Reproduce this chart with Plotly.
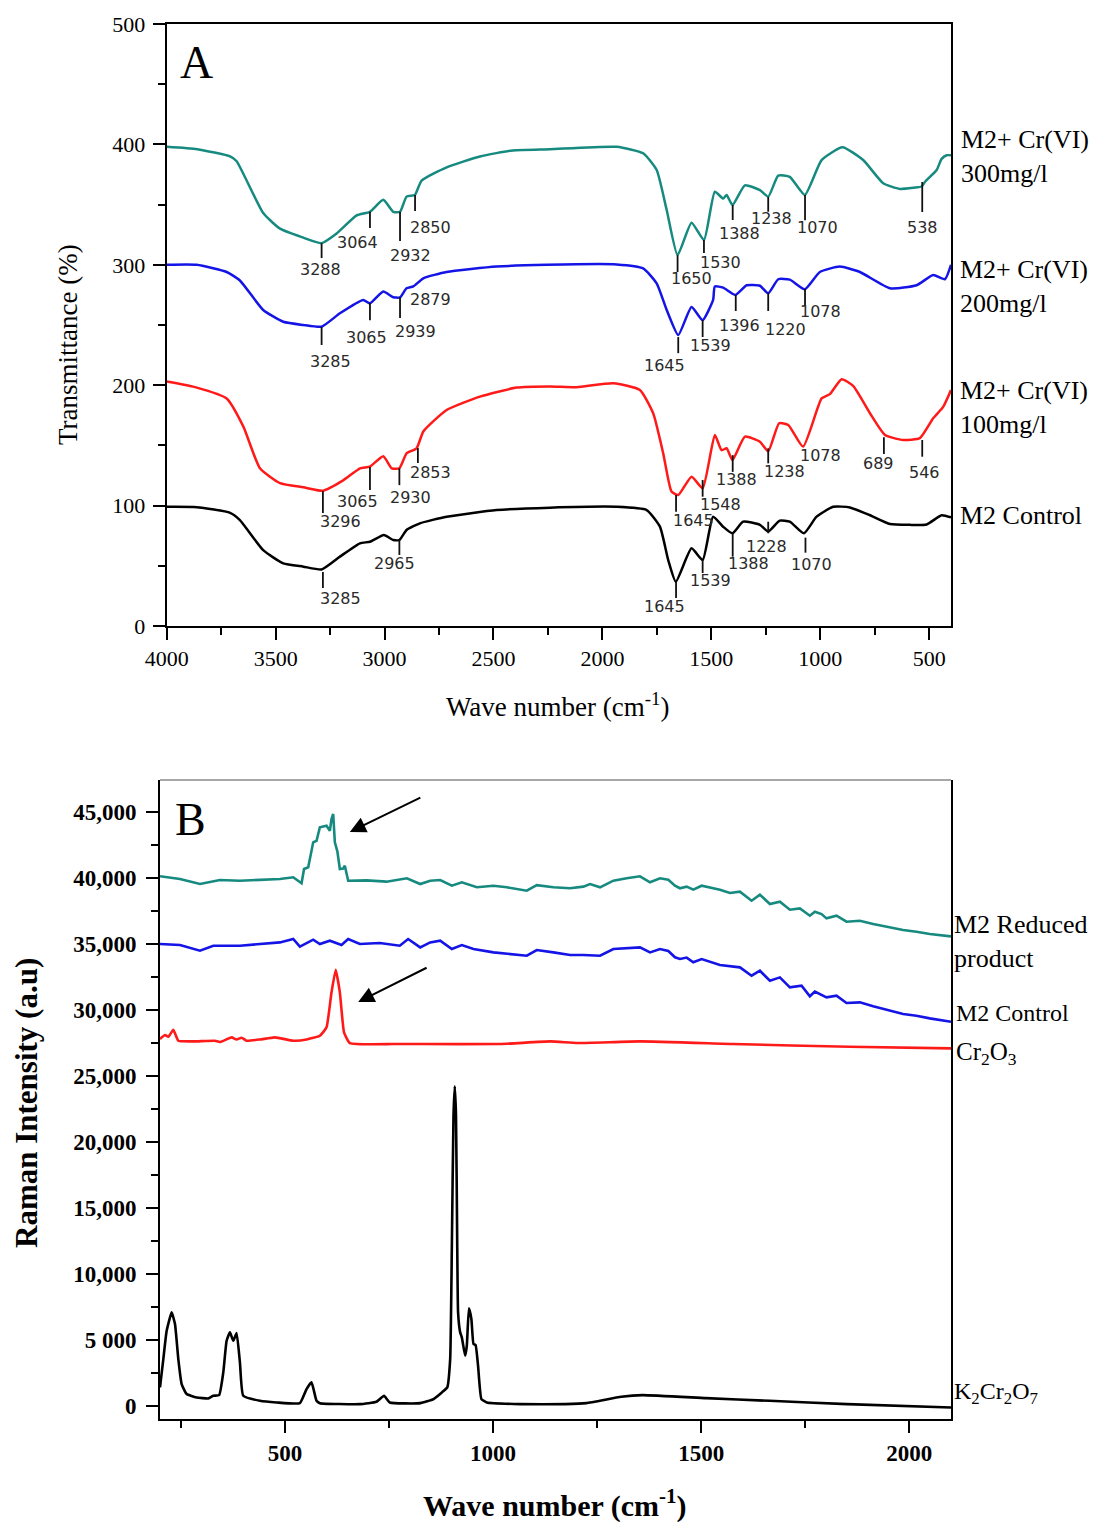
import plotly.graph_objects as go

# ---------------- Panel A : FTIR ----------------
FTIR_300_WN = [4000, 3860, 3709, 3679, 3557, 3480, 3380, 3289, 3220, 3128, 3067, 3006, 2960, 2929, 2899,
               2861, 2830, 2715, 2562, 2411, 2241, 1935, 1813, 1751, 1705, 1655, 1591, 1534, 1484, 1446,
               1430, 1403, 1346, 1277, 1239, 1193, 1140, 1071, 994, 898, 803, 711, 635, 570, 535, 519,
               466, 443, 420, 400]
FTIR_300_T = [398, 396, 390, 386, 343, 330, 323, 318, 326, 341, 344, 354, 344, 344, 356.6,
              358, 370, 381, 390, 395, 396, 398, 392.6, 378.7, 345.5, 308, 335, 320.6, 360.7, 355,
              358, 349.7, 366, 362, 356.6, 374, 373, 358, 387, 397.6, 387, 367.7, 363, 364, 365, 369,
              378.7, 388, 391, 391]

FTIR_200_WN = [4000, 3862, 3725, 3664, 3557, 3465, 3373, 3289, 3205, 3098, 3067, 3006, 2960, 2929, 2899,
               2868, 2822, 2715, 2486, 2256, 1935, 1813, 1751, 1705, 1652, 1591, 1540, 1492, 1484, 1446,
               1390, 1338, 1277, 1239, 1193, 1140, 1071, 1002, 910, 818, 680, 558, 482, 428, 400]
FTIR_200_T = [300, 300, 294, 287, 262.5, 252.7, 250, 248.6, 259.7, 270.8, 268, 277.8, 273, 273, 280.5,
              282, 288.8, 294, 298.5, 300, 300.3, 297, 284.6, 262.5, 241.7, 265, 254, 270.8, 282, 281,
              275, 283, 282.6, 276.4, 288, 287.7, 279.7, 294, 298.5, 294, 280.5, 283, 291.5, 288, 300]

FTIR_100_WN = [4000, 3862, 3725, 3648, 3572, 3480, 3373, 3284, 3190, 3113, 3067, 3006, 2967, 2932, 2899,
               2853, 2822, 2715, 2562, 2394, 2241, 2119, 1950, 1828, 1767, 1721, 1683, 1652, 1591, 1540,
               1484, 1453, 1430, 1403, 1346, 1277, 1239, 1189, 1147, 1079, 994, 956, 902, 849, 772, 703,
               620, 543, 482, 436, 400]
FTIR_100_T = [203, 198, 189, 165.6, 131, 118.7, 115.2, 112.4, 121, 131, 132.4, 141, 131, 131, 143.4,
              147.6, 161.6, 179.4, 190.5, 198, 199, 198.4, 201.6, 196, 176.7, 143.4, 111.7, 108.8, 124, 114.4,
              158.6, 146, 147.6, 137.9, 157.3, 153, 145, 168.4, 167, 149, 189, 192.6, 205, 199.4, 176.7, 158.6,
              154.5, 156, 172.5, 182, 196]

FTIR_CTRL_WN = [4000, 3862, 3709, 3664, 3557, 3465, 3373, 3289, 3205, 3113, 3067, 3003, 2960, 2932, 2899,
                2838, 2715, 2486, 2241, 1935, 1797, 1736, 1698, 1663, 1591, 1540, 1492, 1446, 1403, 1354,
                1277, 1239, 1186, 1140, 1075, 1017, 941, 864, 772, 680, 589, 512, 443, 400]
FTIR_CTRL_T = [99, 98.7, 94, 88, 63, 52, 49.3, 47, 57.6, 68.7, 70, 75.6, 71.4, 71.4, 79.7,
               85.3, 90.8, 96.3, 98.3, 99, 96.3, 82.5, 54.8, 36.8, 64.5, 54.8, 90.8, 82.5, 77, 86.7,
               84, 78.4, 87.5, 86.7, 77, 90.8, 99, 98.5, 92, 84.7, 84, 84.3, 92, 90.2]

FTIR_X_TICKS = [4000, 3500, 3000, 2500, 2000, 1500, 1000, 500]
FTIR_Y_TICKS = [0, 100, 200, 300, 400, 500]

# peak labels: (text, tick wavenumber or None, tick top, tick bottom, label wavenumber, label level)
FTIR_PEAKS = [
    ("3288", 3289, 318, 305.6, 3296, 295.7), ("3064", 3067, 344, 330.6, 3122, 318.9),
    ("2932", 2929, 344, 319.8, 2883, 308), ("2850", 2860, 358, 344.7, 2791, 330.6),
    ("1650", 1655, 308, 294, 1590, 289), ("1530", 1534, 320.6, 309.8, 1457, 302.3),
    ("1388", 1402, 349.7, 337.2, 1373, 325.6), ("1238", 1239, 356.3, 344, 1223, 338.4),
    ("1070", 1070, 358, 337, 1011, 330.6), ("538", 532, 368.8, 343.9, 533, 330.6),
    ("3285", 3289, 248.3, 233.4, 3246, 219.3), ("3065", 3067, 268.3, 254, 3081, 240),
    ("2939", 2929, 273, 255.8, 2856, 244.4), ("2879", None, 0, 0, 2791, 270.8),
    ("1645", 1652, 240, 226.6, 1716, 216.4), ("1539", 1540, 254, 240, 1506, 232.8),
    ("1396", 1388, 275, 261.6, 1369, 249.6), ("1220", 1239, 276.6, 261.6, 1161, 246.1),
    ("1078", 1070, 280, 266.6, 997, 261),
    ("3296", 3283, 112, 93.9, 3204, 86.6), ("3065", 3067, 132, 113, 3123, 103.8),
    ("2930", 2932, 131, 117, 2880, 106.9), ("2853", 2847, 147.8, 135.4, 2791, 127.3),
    ("1645", 1662, 108.8, 94.9, 1583, 87.5), ("1548", 1540, 121.3, 107.4, 1457, 101.3),
    ("1388", 1402, 141.9, 128, 1384, 121.3), ("1238", 1239, 147.6, 135.1, 1165, 128.2),
    ("1078", None, 0, 0, 998, 142), ("689", 708, 156.7, 142.9, 734, 135.1),
    ("546", 532, 154.5, 140.6, 520, 127.9),
    ("3285", 3283, 44.85, 31.6, 3204, 23), ("2965", 2932, 71.4, 59, 2955, 52),
    ("1645", 1662, 36.8, 23.3, 1714, 16.6), ("1539", 1540, 54.8, 44, 1506, 38),
    ("1388", 1402, 77.2, 57.6, 1331, 51.7), ("1228", 1239, 86.6, 77, 1246, 65.9),
    ("1070", 1068, 73.4, 60.9, 1040, 50.7),
]

# ---------------- Panel B : Raman ----------------
RAMAN_RED_WN = [200, 248, 296, 344, 392, 440, 488, 520, 540, 546,
                556, 568, 576, 584, 600, 608, 612, 616, 620, 626,
                632, 640, 644, 652, 696, 744, 793, 825, 849, 873,
                901, 925, 961, 1001, 1033, 1081, 1105, 1145, 1185, 1217,
                1233, 1257, 1289, 1321, 1353, 1377, 1401, 1421, 1437, 1449,
                1465, 1481, 1501, 1545, 1569, 1593, 1621, 1641, 1665, 1689,
                1713, 1737, 1761, 1773, 1789, 1801, 1825, 1849, 1881, 1913,
                1953, 1985, 2017, 2049, 2100]
RAMAN_RED_I = [40106, 39902, 39523, 39826, 39773, 39826, 39902, 40030, 39576, 40659,
               40788, 42682, 42800, 43818, 43939, 43560, 44445, 44826, 42682, 42000,
               40659, 40700, 40909, 39773, 39800, 39700, 39955, 39523, 39773, 39823,
               39394, 39650, 39273, 39394, 39273, 39017, 39440, 39273, 39200, 39323,
               39520, 39273, 39773, 39955, 40106, 39650, 39955, 39850, 39394, 39200,
               39323, 39100, 39394, 39091, 38838, 38940, 38258, 38713, 38008, 38185,
               37576, 37677, 37121, 37424, 37247, 36919, 37121, 36667, 36742, 36490,
               36240, 36037, 35911, 35735, 35558]

RAMAN_CTRL_WN = [200, 248, 296, 328, 392, 440, 488, 520, 536, 568,
                 584, 608, 636, 652, 680, 728, 776, 796, 825, 849,
                 873, 901, 925, 953, 1001, 1081, 1105, 1145, 1185, 1217,
                 1257, 1289, 1321, 1353, 1377, 1401, 1421, 1437, 1449, 1465,
                 1481, 1501, 1545, 1593, 1621, 1641, 1665, 1689, 1713, 1741,
                 1761, 1773, 1801, 1825, 1849, 1881, 1913, 1953, 1985, 2017,
                 2049, 2100]
RAMAN_CTRL_I = [34977, 34900, 34470, 34848, 34848, 34977, 35100, 35356, 34773, 35303,
                34977, 35227, 34900, 35356, 34977, 35050, 34848, 35356, 34723, 35100,
                35227, 34596, 34900, 34596, 34344, 34091, 34520, 34344, 34140, 34140,
                34091, 34596, 34646, 34723, 34344, 34596, 34450, 33970, 33843, 33950,
                33591, 33841, 33386, 33210, 32576, 32955, 32197, 32450, 31697, 31823,
                31015, 31369, 30939, 31065, 30508, 30558, 30255, 29925, 29674, 29548,
                29346, 29093]

RAMAN_CR2O3_WN = [200, 212, 220, 232, 244, 280, 332, 344, 372, 384,
                  396, 408, 440, 476, 520, 552, 584, 600, 612, 622,
                  632, 642, 656, 760, 825, 1017, 1138, 1203, 1353, 1577,
                  1856, 2100]
RAMAN_CR2O3_I = [27780, 28083, 27950, 28485, 27652, 27600, 27652, 27550, 27909, 27740,
                 27880, 27652, 27740, 27909, 27652, 27740, 28030, 28667, 31318, 33030,
                 31318, 28288, 27477, 27400, 27400, 27400, 27600, 27477, 27600, 27400,
                 27197, 27075]

RAMAN_K2_WN = [200, 208, 216, 228, 236, 244, 252, 264, 288, 316,
               328, 342, 352, 360, 368, 376, 384, 392, 400, 440,
               480, 536, 552, 564, 576, 584, 680, 720, 738, 752,
               825, 857, 877, 890, 897, 901, 905, 908, 911, 914,
               916, 921, 925, 933, 937, 942, 948, 953, 958, 964,
               972, 985, 1065, 1173, 1224, 1308, 1359, 1511, 1664, 1850,
               2100]
RAMAN_K2_I = [1394, 3538, 5682, 7076, 6189, 3538, 1644, 886, 636, 560,
              758, 808, 2530, 4924, 5560, 4924, 5510, 3288, 758, 379,
              253, 200, 1265, 1773, 379, 200, 126, 303, 758, 253,
              200, 508, 1015, 1394, 3538, 12000, 22000, 24200, 22000, 12000,
              7076, 5560, 5180, 3788, 4548, 7379, 6568, 4674, 4600, 3030,
              508, 253, 126, 126, 200, 680, 806, 580, 378, 126,
              -126]

RAMAN_X_TICKS = [500, 1000, 1500, 2000]
RAMAN_Y_TICKS = [0, 5000, 10000, 15000, 20000, 25000, 30000, 35000, 40000, 45000]
RAMAN_Y_LABELS = ["0", "5 000", "10,000", "15,000", "20,000", "25,000", "30,000", "35,000", "40,000", "45,000"]

# arrows: (head wn, head I, tail wn, tail I)
RAMAN_ARROWS = [(656, 43462, 829, 46114), (676, 30583, 844, 33235)]

TEAL = "#178a80"
BLUE = "#1414e6"
RED = "#ff1a1a"
BLACK = "#000000"

# page has an 8 px body margin; figure is sized to fit inside the 1106x1530 window
OFF = 8
W, H = 1090, 1514


def PX(px):
    return (px - OFF) / W


def PY(py):
    return 1 - (py - OFF) / H


fig = go.Figure()

for wn, t, c in [(FTIR_300_WN, FTIR_300_T, TEAL), (FTIR_200_WN, FTIR_200_T, BLUE),
                 (FTIR_100_WN, FTIR_100_T, RED), (FTIR_CTRL_WN, FTIR_CTRL_T, BLACK)]:
    fig.add_trace(go.Scatter(x=wn, y=t, mode="lines", xaxis="x", yaxis="y",
                             line=dict(color=c, width=2.5, shape="spline", smoothing=0.5),
                             showlegend=False, hoverinfo="skip"))

# peak tick marks
px, py = [], []
for lab, lx, y0, y1, tx, ty in FTIR_PEAKS:
    if lx is not None:
        px += [lx, lx, None]
        py += [y0, y1, None]
fig.add_trace(go.Scatter(x=px, y=py, mode="lines", xaxis="x", yaxis="y",
                         line=dict(color="#111", width=1.8), showlegend=False, hoverinfo="skip"))

for wn, inten, c, shp in [(RAMAN_RED_WN, RAMAN_RED_I, TEAL, "linear"),
                          (RAMAN_CTRL_WN, RAMAN_CTRL_I, BLUE, "linear"),
                          (RAMAN_CR2O3_WN, RAMAN_CR2O3_I, RED, "spline"),
                          (RAMAN_K2_WN, RAMAN_K2_I, BLACK, "spline")]:
    line = dict(color=c, width=2.6, shape=shp)
    if shp == "spline":
        line["smoothing"] = 0.4
    fig.add_trace(go.Scatter(x=wn, y=inten, mode="lines", xaxis="x2", yaxis="y2",
                             line=line, showlegend=False, hoverinfo="skip"))

annotations = []
for lab, lx, y0, y1, tx, ty in FTIR_PEAKS:
    annotations.append(dict(x=tx, y=ty, xref="x", yref="y", text=lab, showarrow=False,
                            xanchor="center", yanchor="middle",
                            font=dict(family="DejaVu Sans", size=16, color="#2a2a2a")))

for hx, hy, tx, ty in RAMAN_ARROWS:
    annotations.append(dict(x=hx, y=hy, ax=tx, ay=ty, xref="x2", yref="y2", axref="x2", ayref="y2",
                            text="", showarrow=True, arrowhead=2, arrowsize=1.6, arrowwidth=2,
                            arrowcolor="black"))

serif = "Liberation Serif"


def paper_ann(x, y, text, size, bold=False, angle=0, xanchor="center", yanchor="middle", align="center"):
    annotations.append(dict(x=PX(x), y=PY(y), xref="paper", yref="paper", text=text,
                            showarrow=False, xanchor=xanchor, yanchor=yanchor, textangle=angle,
                            align=align,
                            font=dict(family=serif, size=size, color="black",
                                      weight="bold" if bold else "normal")))


paper_ann(196, 62, "A", 46)
paper_ann(190, 819, "B", 46)
paper_ann(68, 345, "Transmittance (%)", 27, angle=-90)
paper_ann(558, 705, "Wave number (cm<sup>-1</sup>)", 27)
paper_ann(26, 1103, "Raman Intensity (a.u)", 31, bold=True, angle=-90)
paper_ann(555, 1503, "Wave number (cm<sup>-1</sup>)", 30, bold=True)

paper_ann(959, 156.5, "M2+ Cr(VI)<br>300mg/l", 26, xanchor="left", align="left")
paper_ann(958, 286, "M2+ Cr(VI)<br>200mg/l", 26, xanchor="left", align="left")
paper_ann(958, 407, "M2+ Cr(VI)<br>100mg/l", 26, xanchor="left", align="left")
paper_ann(958, 515, "M2 Control", 26, xanchor="left", align="left")

paper_ann(952, 941.5, "M2 Reduced<br>product", 26, xanchor="left", align="left")
paper_ann(954, 1013, "M2 Control", 24, xanchor="left", align="left")
paper_ann(954, 1053, "Cr<sub>2</sub>O<sub>3</sub>", 25, xanchor="left", align="left")
paper_ann(952, 1393, "K<sub>2</sub>Cr<sub>2</sub>O<sub>7</sub>", 24, xanchor="left", align="left")

axis_common = dict(showgrid=False, zeroline=False, showline=True, linecolor="black", linewidth=2,
                   ticks="outside", tickcolor="black", tickwidth=2, ticklen=12, automargin=False)

fig.update_layout(
    width=W, height=H,
    margin=dict(l=0, r=0, t=0, b=0),
    paper_bgcolor="white", plot_bgcolor="white",
    xaxis=dict(domain=[PX(166.7), PX(951)], anchor="y", range=[4000, 400],
               tickvals=FTIR_X_TICKS, mirror=True,
               tickfont=dict(family=serif, size=22, color="black"),
               minor=dict(ticks="outside", ticklen=7, tickwidth=2, tickcolor="black", dtick=250, tick0=0),
               **axis_common),
    yaxis=dict(domain=[PY(626), PY(24)], anchor="x", range=[0, 500],
               tickvals=FTIR_Y_TICKS, mirror=True, ticklabelstandoff=3,
               tickfont=dict(family=serif, size=22, color="black"),
               minor=dict(ticks="outside", ticklen=7, tickwidth=2, tickcolor="black", dtick=50, tick0=0),
               **axis_common),
    xaxis2=dict(domain=[PX(160), PX(951)], anchor="y2", range=[200, 2100],
                tickvals=RAMAN_X_TICKS,
                tickfont=dict(family=serif, size=23, color="black", weight="bold"),
                minor=dict(ticks="outside", ticklen=7, tickwidth=2, tickcolor="black", dtick=250, tick0=0),
                **axis_common),
    yaxis2=dict(domain=[PY(1419), PY(780)], anchor="x2", range=[-1000, 47400],
                tickvals=RAMAN_Y_TICKS, ticktext=RAMAN_Y_LABELS, mirror=True, ticklabelstandoff=5,
                tickfont=dict(family=serif, size=23, color="black", weight="bold"),
                minor=dict(ticks="outside", ticklen=7, tickwidth=2, tickcolor="black", dtick=2500, tick0=0),
                **axis_common),
    annotations=annotations,
    shapes=[dict(type="line", xref="paper", yref="paper", x0=PX(160), x1=PX(951),
                 y0=PY(780), y1=PY(780), line=dict(color="#8a8a8a", width=1.5))],
)

fig.write_html("out.html")
